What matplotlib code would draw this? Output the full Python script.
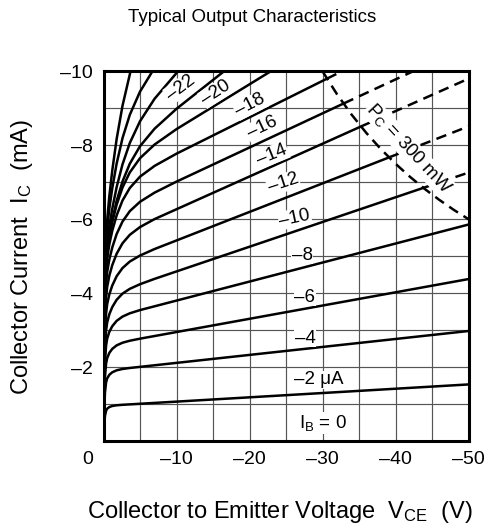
import matplotlib
matplotlib.use("Agg")
import matplotlib.pyplot as plt

plt.rcParams['font.family'] = ['Liberation Sans', 'DejaVu Sans']
plt.rcParams['mathtext.fontset'] = 'custom'
plt.rcParams['mathtext.rm'] = 'Liberation Sans'
plt.rcParams['mathtext.it'] = 'Liberation Sans:italic'
plt.rcParams['mathtext.bf'] = 'Liberation Sans:bold'

# ---------------- data (V_CE in V, I_C in mA) ----------------
v_ib00 = [0.0, -50.0]
i_ib00 = [0.0, 0.0]

v_ib02 = [0, -0.05, -0.1, -0.2, -0.35, -0.5, -0.8, -1.2, -1.8, -2.6, -50]
i_ib02 = [0, -0.278, -0.464, -0.681, -0.818, -0.874, -0.919, -0.947, -0.966, -0.979, -1.53]

v_ib04 = [0, -0.05, -0.1, -0.2, -0.35, -0.5, -0.8, -1.2, -1.8, -2.6, -3.6, -50]
i_ib04 = [0, -0.536, -0.898, -1.316, -1.582, -1.693, -1.792, -1.859, -1.912, -1.948, -1.975, -2.975]

v_ib06 = [0, -0.05, -0.1, -0.2, -0.35, -0.5, -0.8, -1.2, -1.8, -2.6, -3.6, -5, -50]
i_ib06 = [0, -0.709, -1.188, -1.739, -2.092, -2.242, -2.385, -2.492, -2.587, -2.658, -2.712,
          -2.768, -4.38]

v_ib08 = [0, -0.05, -0.1, -0.2, -0.35, -0.5, -0.8, -1.2, -1.8, -2.6, -3.6, -5, -50]
i_ib08 = [0, -0.874, -1.464, -2.143, -2.58, -2.769, -2.955, -3.106, -3.25, -3.365, -3.454,
          -3.541, -5.855]

v_ib10 = [0, -0.05, -0.1, -0.2, -0.35, -0.5, -0.8, -1.2, -1.8, -2.6, -3.6, -5, -7, -43.8]
i_ib10 = [0, -1.011, -1.694, -2.48, -2.986, -3.206, -3.432, -3.624, -3.82, -3.986, -4.116,
          -4.241, -4.386, -6.846]
v_ib10_ext = [-43.8, -50.0]
i_ib10_ext = [-6.846, -7.26]

v_ib12 = [0, -0.05, -0.1, -0.2, -0.35, -0.5, -0.8, -1.2, -1.8, -2.6, -3.6, -5, -7, -39.1]
i_ib12 = [0, -1.168, -1.955, -2.862, -3.447, -3.703, -3.971, -4.206, -4.458, -4.678, -4.854,
          -5.017, -5.193, -7.67]
v_ib12_ext = [-39.1, -50.0]
i_ib12_ext = [-7.67, -8.51]

v_ib14 = [0, -0.05, -0.1, -0.2, -0.35, -0.5, -0.8, -1.2, -1.8, -2.6, -3.6, -5, -7, -35.3]
i_ib14 = [0, -1.313, -2.199, -3.219, -3.878, -4.168, -4.477, -4.758, -5.066, -5.348, -5.577,
          -5.787, -6.003, -8.51]
v_ib14_ext = [-35.3, -50.0]
i_ib14_ext = [-8.51, -9.8]

v_ib16 = [0, -0.05, -0.1, -0.2, -0.35, -0.5, -0.8, -1.2, -1.8, -2.6, -3.6, -5, -7, -10, -32.9]
i_ib16 = [0, -1.439, -2.409, -3.526, -4.25, -4.57, -4.916, -5.236, -5.599, -5.936, -6.217,
          -6.471, -6.719, -7.016, -9.13]
v_ib16_ext = [-32.9, -42.4]
i_ib16_ext = [-9.13, -10.0]

v_ib18 = [0, -0.05, -0.1, -0.2, -0.35, -0.5, -0.8, -1.2, -1.8, -2.6, -3.6, -5, -7, -10, -30.6]
i_ib18 = [0, -1.555, -2.605, -3.813, -4.595, -4.944, -5.326, -5.689, -6.105, -6.505, -6.843,
          -7.151, -7.442, -7.772, -9.8]
v_ib18_ext = [-30.6, -32.65]
i_ib18_ext = [-9.8, -10.0]

v_ib20 = [0, -0.05, -0.1, -0.2, -0.35, -0.5, -0.8, -1.2, -1.8, -2.6, -3.6, -5, -7, -10, -22.9]
i_ib20 = [0, -1.606, -2.691, -3.941, -4.754, -5.12, -5.529, -5.925, -6.394, -6.857, -7.265,
          -7.65, -8.02, -8.436, -10.0]

v_ib22 = [0, -0.05, -0.1, -0.2, -0.35, -0.5, -0.8, -1.2, -1.8, -2.6, -3.6, -5, -7, -10, -16.5]
i_ib22 = [0, -1.605, -2.688, -3.942, -4.759, -5.133, -5.558, -5.982, -6.494, -7.019, -7.5,
          -7.975, -8.448, -8.986, -10.0]

v_ib24 = [0, -0.05, -0.1, -0.2, -0.35, -0.5, -0.8, -1.2, -1.8, -2.6, -3.6, -5, -7, -10.2]
i_ib24 = [0, -1.663, -2.786, -4.088, -4.948, -5.346, -5.812, -6.285, -6.869, -7.482, -8.061,
          -8.65, -9.259, -10.0]

v_ib26 = [0, -0.05, -0.1, -0.2, -0.35, -0.5, -0.8, -1.2, -1.8, -2.6, -3.6, -5, -6.7]
i_ib26 = [0, -1.771, -2.972, -4.371, -5.308, -5.756, -6.295, -6.84, -7.507, -8.192, -8.823,
          -9.451, -10.0]

v_ib28 = [0, -0.05, -0.1, -0.2, -0.35, -0.5, -0.8, -1.2, -1.8, -2.6, -3.7]
i_ib28 = [0, -1.789, -3.012, -4.457, -5.463, -5.974, -6.632, -7.32, -8.172, -9.068, -10.0]

# P_C = 300 mW limit line
v_pc = [-30, -32, -34, -36, -38, -40, -42, -44, -46, -48, -50]
i_pc = [-10.0, -9.375, -8.824, -8.333, -7.895, -7.5, -7.143, -6.818, -6.522, -6.25, -6.0]

# curve labels: text, V, I, rotation
label_texts = ['–22', '–20', '–18', '–16', '–14', '–12', '–10', '–8', '–6', '–4']
label_v = [-10.6, -15.4, -20.1, -21.7, -23.1, -24.6, -26.2, -27.2, -27.6, -27.6]
label_i = [-9.56, -9.43, -9.08, -8.48, -7.74, -6.98, -6.03, -5.03, -3.89, -2.78]
label_rot = [37, 33, 27, 25, 22, 18, 12, 0, 0, 0]

x_ticks = [-10, -20, -30, -40, -50]
x_ticklabels = ['–10', '–20', '–30', '–40', '–50']
y_ticks = [-2, -4, -6, -8, -10]
y_ticklabels = ['–2', '–4', '–6', '–8', '–10']
x_minor = [-5, -15, -25, -35, -45]
y_minor = [-1, -3, -5, -7, -9]

# ---------------- figure ----------------
fig = plt.figure(figsize=(4.89, 5.27), dpi=100)
ax = fig.add_axes([0.2117, 0.1632, 0.7464, 0.7015])

ax.set_xlim(0, -50)
ax.set_ylim(0, -10)
ax.set_xticks(x_ticks)
ax.set_xticklabels(x_ticklabels, fontsize=14)
ax.set_yticks(y_ticks)
ax.set_yticklabels(y_ticklabels, fontsize=14)
ax.set_xticks(x_minor, minor=True)
ax.set_yticks(y_minor, minor=True)
ax.tick_params(which='both', length=0)
ax.tick_params(axis='x', pad=7)
ax.tick_params(axis='y', pad=7.5)
ax.set_axisbelow(True)
ax.grid(which='both', color='#555555', linewidth=0.85)
for sp in ax.spines.values():
    sp.set_linewidth(2.2)
    sp.set_color('black')
    sp.set_zorder(5)

lw = 1.8
solid = [(v_ib00, i_ib00), (v_ib02, i_ib02), (v_ib04, i_ib04), (v_ib06, i_ib06),
         (v_ib08, i_ib08), (v_ib10, i_ib10), (v_ib12, i_ib12), (v_ib14, i_ib14),
         (v_ib16, i_ib16), (v_ib18, i_ib18), (v_ib20, i_ib20), (v_ib22, i_ib22),
         (v_ib24, i_ib24), (v_ib26, i_ib26), (v_ib28, i_ib28)]
for v, i in solid:
    ax.plot(v, i, color='black', lw=lw, solid_joinstyle='round', zorder=2)

dashed = [(v_ib10_ext, i_ib10_ext), (v_ib12_ext, i_ib12_ext), (v_ib14_ext, i_ib14_ext),
          (v_ib16_ext, i_ib16_ext), (v_ib18_ext, i_ib18_ext), (v_pc, i_pc)]
for v, i in dashed:
    ax.plot(v, i, color='black', lw=lw, dashes=(4.2, 2.6), zorder=2)

box = dict(facecolor='white', edgecolor='none', pad=0.6)
for t, v, i, r in zip(label_texts, label_v, label_i, label_rot):
    ax.text(v, i, t, fontsize=13.5, rotation=r, rotation_mode='anchor',
            ha='center', va='center', bbox=box, zorder=3)
ax.text(-29.5, -1.65, '–2 μA', fontsize=13.5, ha='center', va='center', bbox=box, zorder=3)
ax.text(-30.1, -0.49, r'I$_{\mathregular{B}}$ = 0', fontsize=13.5, ha='center', va='center',
        bbox=box, zorder=3)
ax.text(-41.8, -7.9, r'P$_{\mathregular{C}}$ = 300 mW', fontsize=13.5, rotation=-47,
        rotation_mode='anchor', ha='center', va='center', bbox=box, zorder=3)

# "0" label at the origin, set off to the left as in the original
ax.annotate('0', xy=(0, 0), xycoords=('data', 'axes fraction'), xytext=(-11.5, -7),
            textcoords='offset points', ha='center', va='top', fontsize=14)

fig.text(252.5 / 489, 1 - 18 / 527, 'Typical Output Characteristics', fontsize=13.5,
         ha='center', va='center')
fig.text(280 / 489, 1 - 512 / 527,
         r'Collector to Emitter Voltage  V$_{\mathregular{CE}}$  (V)', fontsize=17,
         ha='center', va='center')
fig.text(22 / 489, 1 - 257 / 527, r'Collector Current  I$_{\mathregular{C}}$  (mA)',
         fontsize=17, rotation=90, ha='center', va='center')

fig.savefig('out.png', dpi=100)
